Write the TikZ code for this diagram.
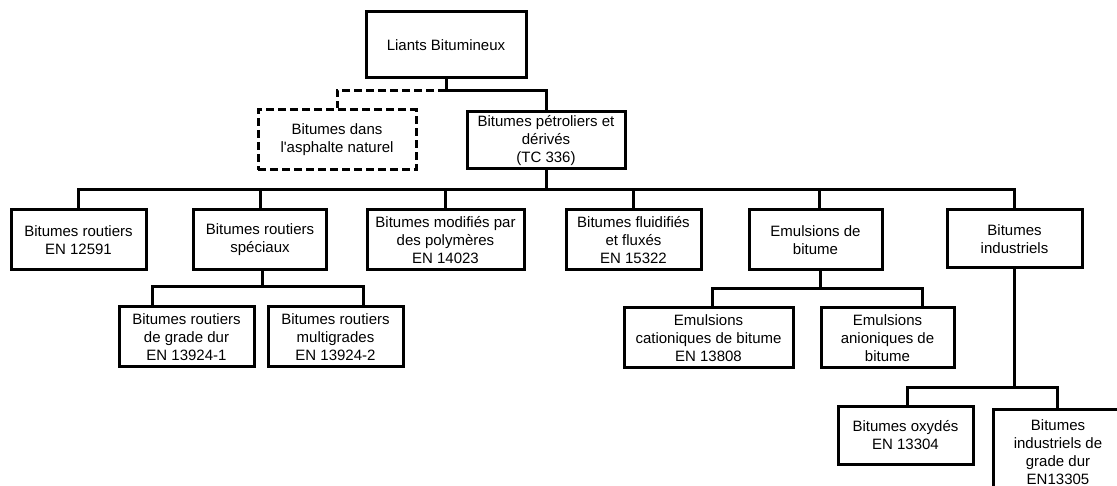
\documentclass[tikz,border=0pt]{standalone}
\usepackage{fontspec}
\setmainfont{Liberation Sans}
\usepackage{tikz}
\usetikzlibrary{calc}
\tikzset{
  box/.style={draw=black, line width=3pt, align=center, inner sep=0pt,
    font=\fontsize{15}{18}\selectfont, text=black},
  dbox/.style={box, dash pattern=on 8pt off 4pt},
  link/.style={draw=black, line width=3pt, line cap=rect, line join=miter},
  dlink/.style={link, line cap=butt, dash pattern=on 8pt off 4pt},
}

\begin{document}
\begin{tikzpicture}[x=1pt,y=-1pt]
  \useasboundingbox[fill=white] (0,0) rectangle (1117,486);
  \coordinate (bus) at (0,190);

  % top levels
  \node[box,minimum width=160,minimum height=66] (root) at (446,45) {Liants Bitumineux};
  \node[dbox,minimum width=158,minimum height=60] (nat) at (337,140) {Bitumes dans\\l\textquotesingle asphalte naturel};
  \node[box,minimum width=158,minimum height=57] (pet) at (546,140.5) {Bitumes pétroliers et\\dérivés\\(TC 336)};

  % families
  \node[box,minimum width=135,minimum height=60] (br) at (78.5,240) {Bitumes routiers\\EN 12591};
  \node[box,minimum width=133,minimum height=60] (brs) at (260,240) {Bitumes routiers\\spéciaux};
  \node[box,minimum width=157,minimum height=60] (mod) at (445.5,240) {Bitumes modifiés par\\des polymères\\EN 14023};
  \node[box,minimum width=135,minimum height=60] (flu) at (633.5,240) {Bitumes fluidifiés\\et fluxés\\EN 15322};
  \node[box,minimum width=133,minimum height=60] (emu) at (815.5,240) {Emulsions de\\bitume};
  \node[box,minimum width=135,minimum height=58] (ind) at (1014.5,239) {Bitumes\\industriels};

  % sub families
  \node[box,minimum width=135,minimum height=60] (gd) at (186.5,337) {Bitumes routiers\\de grade dur\\EN 13924-1};
  \node[box,minimum width=135,minimum height=60] (mg) at (335.5,337) {Bitumes routiers\\multigrades\\EN 13924-2};
  \node[box,minimum width=169,minimum height=60] (cat) at (708.5,338) {Emulsions\\cationiques de bitume\\EN 13808};
  \node[box,minimum width=133,minimum height=60] (ani) at (887.5,338) {Emulsions\\anioniques de\\bitume};
  \node[box,minimum width=135,minimum height=58] (oxy) at (905.5,435) {Bitumes oxydés\\EN 13304};
  \node[box,minimum width=130,minimum height=86] (igd) at (1058,452) {Bitumes\\industriels de\\grade dur\\EN13305};

  % connectors
  \draw[link] (root.south) -- ++(0,11) coordinate (rj) -| (pet.north);
  \draw[dlink] (rj) -| (nat.north);
  \draw[link] (pet.south) -- (pet.south |- bus);
  \draw[link] (br.north |- bus) -- (ind.north |- bus);
  \foreach \n in {br,brs,mod,flu,ind}
    \draw[link] (\n.north) -- (\n.north |- bus);
  \draw[link] ([xshift=4]emu.north) -- ([xshift=4]emu.north |- bus);

  \draw[link] ([xshift=2]brs.south) -- ++(0,15) coordinate (sj) -| ([xshift=-34]gd.north);
  \draw[link] (sj) -| ([xshift=28]mg.north);
  \draw[link] ([xshift=5]emu.south) -- ++(0,17) coordinate (ej) -| ([xshift=4]cat.north);
  \draw[link] (ej) -| ([xshift=35]ani.north);
  \draw[link] (ind.south) -- ++(0,118) coordinate (ij) -| ([xshift=2]oxy.north);
  \draw[link] (ij) -| ([xshift=-1]igd.north);
\end{tikzpicture}
\end{document}
